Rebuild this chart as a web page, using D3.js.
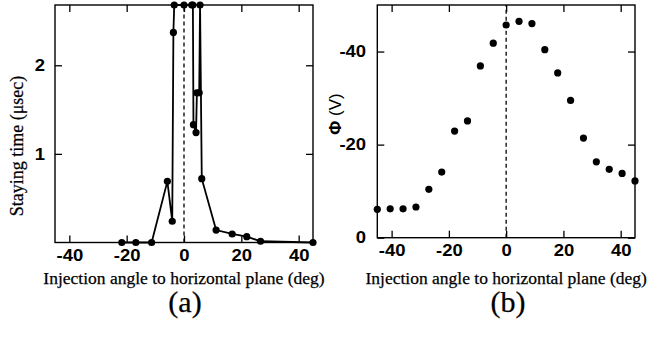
<!DOCTYPE html>
<html><head><meta charset="utf-8">
<script src="https://cdn.jsdelivr.net/npm/d3@7"></script>
<style>
body{margin:0;background:#fff;}
svg{display:block;}
.tick text{font-family:"Liberation Sans",Arial,sans-serif;font-weight:bold;font-size:16.5px;fill:#000;}
.serif{font-family:"Liberation Serif","Times New Roman",serif;fill:#000;stroke:#000;stroke-width:0.25px;}
.sans{font-family:"Liberation Sans",Arial,sans-serif;fill:#000;}
</style></head>
<body>
<script>
// Panel (a): staying time vs injection angle
const angleA = [-21.7, -16.8, -11.3, -5.8, -4.1, -3.7, -3.4, 0, 2.7, 3.1, 3.3, 4.2, 4.5, 5.3, 5.6, 6.2, 11.2, 16.8, 21.9, 26.7, 45];
const stayA  = [0, 0, 0, 0.69, 0.24, 2.37, 3, 3, 3, 3, 1.33, 1.24, 1.69, 1.69, 3, 0.72, 0.14, 0.096, 0.066, 0.014, 0];
// Panel (b): potential vs injection angle
const angleB = [-45, -40.5, -36, -31.5, -27, -22.5, -18, -13.5, -9, -4.5, 0, 4.5, 9, 13.5, 18, 22.5, 27, 31.5, 36, 40.5, 45];
const phiB   = [-6.1, -6.2, -6.2, -6.6, -10.4, -14.1, -22.9, -25.1, -36.9, -41.8, -45.7, -46.5, -46.0, -40.4, -35.4, -29.5, -21.4, -16.3, -14.7, -13.8, -12.2];
const xTicks = [-40, -20, 0, 20, 40];
const yTicksA = [1, 2];
const yTicksB = [0, -20, -40];

const W = 647, H = 343;
const svg = d3.select("body").append("svg").attr("width", W).attr("height", H);
const fmt = d => String(d);

function panel(opt) {
  const x = d3.scaleLinear().domain([-45, 45]).range([opt.x0, opt.x1]);
  const y = d3.scaleLinear().domain(opt.yDomain).range([opt.y0, opt.y1]).clamp(true);
  const g = svg.append("g");
  const tl = 7;
  const styleAxis = sel => {
    sel.select(".domain").remove();
    sel.selectAll(".tick line").attr("stroke", "#000").attr("stroke-width", 1.3);
  };
  g.append("g").attr("transform", `translate(0,${opt.y0})`)
    .call(d3.axisBottom(x).tickValues(xTicks).tickSize(-tl).tickPadding(7).tickFormat(fmt))
    .call(styleAxis);
  g.append("g").attr("transform", `translate(0,${opt.y1})`)
    .call(d3.axisTop(x).tickValues(xTicks).tickSize(-tl).tickFormat(""))
    .call(styleAxis);
  g.append("g").attr("transform", `translate(${opt.x0},0)`)
    .call(d3.axisLeft(y).tickValues(opt.yTicks).tickSize(-tl).tickPadding(opt.yPad).tickFormat(fmt))
    .call(styleAxis);
  g.append("g").attr("transform", `translate(${opt.x1},0)`)
    .call(d3.axisRight(y).tickValues(opt.yTicks).tickSize(-tl).tickFormat(""))
    .call(styleAxis);
  g.selectAll(".tick text").attr("transform", "scale(1.12,1)");
  g.append("rect").attr("x", opt.x0).attr("y", opt.y1)
    .attr("width", opt.x1 - opt.x0).attr("height", opt.y0 - opt.y1)
    .attr("fill", "none").attr("stroke", "#000").attr("stroke-width", 1.4);
  // dashed zero line
  g.append("line").attr("x1", x(0)).attr("x2", x(0)).attr("y1", opt.y0).attr("y2", opt.y1)
    .attr("stroke", "#000").attr("stroke-width", 1.3).attr("stroke-dasharray", "4,3");
  const pts = opt.xs.map((v, i) => [v, opt.ys[i]]);
  if (opt.line) {
    g.append("path").datum(pts)
      .attr("d", d3.line().x(d => x(d[0])).y(d => y(d[1])))
      .attr("fill", "none").attr("stroke", "#000").attr("stroke-width", 1.8);
  }
  g.selectAll("circle.pt").data(pts).join("circle").attr("class", "pt")
    .attr("cx", d => x(d[0])).attr("cy", d => y(d[1])).attr("r", 3.6).attr("fill", "#000");
  // labels
  g.append("text").attr("class", "serif").attr("x", (opt.x0 + opt.x1) / 2).attr("y", 284)
    .attr("text-anchor", "middle").attr("font-size", 17.5).text("Injection angle to horizontal plane (deg)");
  g.append("text").attr("class", "serif").attr("x", opt.capX).attr("y", 312)
    .attr("text-anchor", "middle").attr("font-size", 30).text(opt.cap);
  const yl = g.append("text").attr("class", opt.yLabelClass)
    .attr("transform", `translate(${opt.yl[0]},${opt.yl[1]}) rotate(-90)`)
    .attr("text-anchor", "middle").attr("dominant-baseline", "central")
    .attr("font-size", opt.yLabelSize);
  opt.yLabel.forEach(([t, w]) => yl.append("tspan").attr("font-weight", w).text(t));
}

panel({x0: 55, x1: 313, y0: 242.5, y1: 5, yDomain: [0, 2.68], yTicks: yTicksA, yPad: 9,
  xs: angleA, ys: stayA, line: true, cap: "(a)", capX: 185,
  yLabel: [["Staying time (\u03bcsec)", "normal"]], yLabelClass: "serif", yLabelSize: 18, yl: [17, 146]});
panel({x0: 377.3, x1: 635, y0: 237.7, y1: 5, yDomain: [0, -50], yTicks: yTicksB, yPad: 10,
  xs: angleB, ys: phiB, line: false, cap: "(b)", capX: 508,
  yLabel: [["\u03a6", "bold"], [" (V)", "normal"]], yLabelClass: "sans", yLabelSize: 17, yl: [335, 114]});
</script>
</body></html>
